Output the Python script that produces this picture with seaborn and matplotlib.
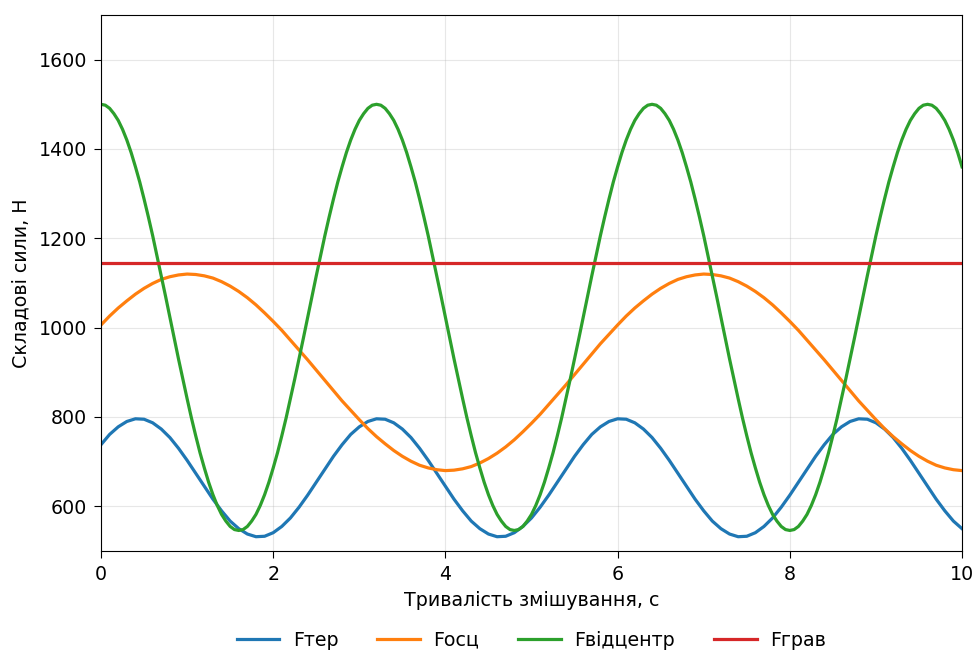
import numpy as np
import pandas as pd
import matplotlib
matplotlib.use("Agg")
import matplotlib.pyplot as plt
import seaborn as sns

# time axes: 0..10 s, 0.1 s step (0.05 s for the fast centrifugal component)
t = np.round(np.arange(0, 101) * 0.1, 2)
t_fine = np.round(np.arange(0, 201) * 0.05, 2)

# values (N)
f_ter = [738, 761, 778, 790, 796, 795, 787, 773, 754, 730, 703, 674, 645, 616, 590, 567, 550, 538, 532, 533,
         541, 555, 574, 598, 625, 654, 683, 712,
         738, 761, 778, 790, 796, 795, 787, 773, 754, 730, 703, 674, 645, 616, 590, 567, 550, 538, 532, 533,
         541, 555, 574, 598, 625, 654, 683, 712,
         738, 761, 778, 790, 796, 795, 787, 773, 754, 730, 703, 674, 645, 616, 590, 567, 550, 538, 532, 533,
         541, 555, 574, 598, 625, 654, 683, 712,
         738, 761, 778, 790, 796, 795, 787, 773, 754, 730, 703, 674, 645, 616, 590, 567, 550]

f_osc = [1006, 1026, 1044, 1060, 1075, 1088, 1099, 1108, 1114, 1118, 1120, 1119, 1116, 1111, 1103, 1093, 1081,
         1067, 1051, 1033, 1014, 994, 972, 950, 928, 905, 882, 859, 836, 815, 794, 774, 756, 740, 725, 712,
         701, 692, 686, 682, 680, 681, 684, 689, 697, 707, 719, 733, 749, 767, 786, 806, 828, 850, 872, 895,
         918, 941, 964, 985,
         1006, 1026, 1044, 1060, 1075, 1088, 1099, 1108, 1114, 1118, 1120, 1119, 1116, 1111, 1103, 1093, 1081,
         1067, 1051, 1033, 1014, 994, 972, 950, 928, 905, 882, 859, 836, 815, 794, 774, 756, 740, 725, 712,
         701, 692, 686, 682, 680]

f_vidc = [1500, 1498, 1491, 1479, 1464, 1444, 1420, 1392, 1360, 1326, 1288, 1248, 1206, 1161, 1116, 1070,
          1023, 976, 930, 885, 841, 798, 758, 720, 686, 654, 626, 602, 582, 567, 555, 548,
          546, 548, 555, 567, 582, 602, 626, 654, 686, 720, 758, 798, 841, 885, 930, 976,
          1023, 1070, 1116, 1161, 1206, 1248, 1288, 1326, 1360, 1392, 1420, 1444, 1464, 1479, 1491, 1498,
          1500, 1498, 1491, 1479, 1464, 1444, 1420, 1392, 1360, 1326, 1288, 1248, 1206, 1161, 1116, 1070,
          1023, 976, 930, 885, 841, 798, 758, 720, 686, 654, 626, 602, 582, 567, 555, 548,
          546, 548, 555, 567, 582, 602, 626, 654, 686, 720, 758, 798, 841, 885, 930, 976,
          1023, 1070, 1116, 1161, 1206, 1248, 1288, 1326, 1360, 1392, 1420, 1444, 1464, 1479, 1491, 1498,
          1500, 1498, 1491, 1479, 1464, 1444, 1420, 1392, 1360, 1326, 1288, 1248, 1206, 1161, 1116, 1070,
          1023, 976, 930, 885, 841, 798, 758, 720, 686, 654, 626, 602, 582, 567, 555, 548,
          546, 548, 555, 567, 582, 602, 626, 654, 686, 720, 758, 798, 841, 885, 930, 976,
          1023, 1070, 1116, 1161, 1206, 1248, 1288, 1326, 1360, 1392, 1420, 1444, 1464, 1479, 1491, 1498,
          1500, 1498, 1491, 1479, 1464, 1444, 1420, 1392, 1360]

f_grav = 1145

labels = ["Fтер", "Fосц", "Fвідцентр", "Fграв"]
colors = ["#1f77b4", "#ff7f0e", "#2ca02c", "#d62728"]

# long table for seaborn
parts = [
    pd.DataFrame({"t": t, "F": f_ter, "сила": labels[0]}),
    pd.DataFrame({"t": t, "F": f_osc, "сила": labels[1]}),
    pd.DataFrame({"t": t_fine, "F": f_vidc, "сила": labels[2]}),
    pd.DataFrame({"t": t, "F": f_grav, "сила": labels[3]}),
]
long_df = pd.concat(parts, ignore_index=True)

fs = 13.7

fig = plt.figure(figsize=(9.74, 6.51), dpi=100)
ax = fig.add_axes([0.1037, 0.1536, 0.884, 0.8234])

sns.lineplot(data=long_df, x="t", y="F", hue="сила", hue_order=labels,
             palette=colors, linewidth=2.3, ax=ax)

ax.set_xlim(0, 10)
ax.set_ylim(500, 1700)
ax.set_xticks([0, 2, 4, 6, 8, 10])
ax.set_yticks([600, 800, 1000, 1200, 1400, 1600])
ax.tick_params(labelsize=fs, length=5, pad=5)
ax.grid(True, alpha=0.3)
ax.set_xlabel("Тривалість змішування, с", fontsize=fs, labelpad=5)
ax.set_ylabel("Складові сили, Н", fontsize=fs, labelpad=6)

ax.legend(loc="upper center", bbox_to_anchor=(0.5, -0.117), ncol=4, frameon=False,
          fontsize=fs, handlelength=2.25, handletextpad=0.7, columnspacing=2.05)

fig.savefig("out.png", dpi=100)
